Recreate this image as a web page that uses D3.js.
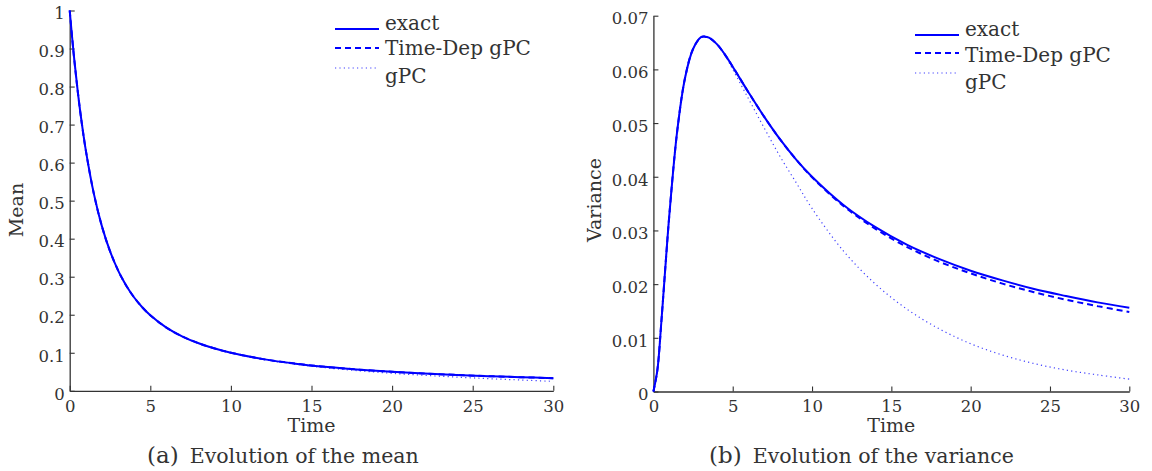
<!DOCTYPE html>
<html lang="en">
<head>
  <meta charset="UTF-8">
  <title>Evolution of mean and variance</title>
  <style>
    body { margin: 0; background: #fff; }
    svg text { font-family: 'DejaVu Serif', serif; fill: #333; }
  </style>
</head>
<body>
  <div id="chart"></div>

  <script src="https://d3js.org/d3.v7.min.js"></script>

  <script>
    // sample times
    const time = [0, 0.25, 0.5, 0.75, 1, 1.5, 2, 2.5, 3, 3.25, 3.5, 4, 4.5, 5, 6, 7, 8, 9, 10, 12, 14, 16, 18, 20, 22, 24, 26, 28, 30];

    // (a) mean
    const meanExact = [1, 0.8848, 0.7869, 0.7035, 0.6321, 0.5179, 0.4323, 0.3672, 0.3167, 0.2958, 0.2771, 0.2454, 0.2198, 0.1987, 0.1663, 0.1427, 0.1250, 0.1111, 0.1000, 0.0833, 0.0714, 0.0625, 0.0556, 0.0500, 0.0455, 0.0417, 0.0385, 0.0357, 0.0333];
    const meanTimeDep = [1, 0.8848, 0.7869, 0.7035, 0.6321, 0.5179, 0.4323, 0.3672, 0.3167, 0.2958, 0.2771, 0.2454, 0.2198, 0.1987, 0.1663, 0.1427, 0.1250, 0.1111, 0.1000, 0.0833, 0.0714, 0.0625, 0.0556, 0.0500, 0.0455, 0.0417, 0.0385, 0.0357, 0.0333];
    const meanGpc = [1, 0.8848, 0.7869, 0.7035, 0.6321, 0.5179, 0.4323, 0.3672, 0.3167, 0.2958, 0.2771, 0.2454, 0.2198, 0.1987, 0.1663, 0.1427, 0.1250, 0.1110, 0.0995, 0.0824, 0.0698, 0.0601, 0.0524, 0.0460, 0.0406, 0.0360, 0.0319, 0.0283, 0.0248];

    // (b) variance
    const varExact = [0, 0.0040, 0.0129, 0.0230, 0.0327, 0.0485, 0.0585, 0.0638, 0.0660, 0.0661, 0.0659, 0.0647, 0.0628, 0.0605, 0.0557, 0.0511, 0.0469, 0.0432, 0.0400, 0.0347, 0.0306, 0.0273, 0.0247, 0.0225, 0.0207, 0.0191, 0.0178, 0.0166, 0.0156];
    const varTimeDep = [0, 0.0040, 0.0129, 0.0230, 0.0327, 0.0485, 0.0585, 0.0638, 0.0660, 0.0661, 0.0659, 0.0647, 0.0628, 0.0605, 0.0557, 0.0511, 0.0469, 0.0432, 0.0399, 0.0345, 0.0303, 0.0269, 0.0242, 0.0220, 0.0201, 0.0185, 0.0171, 0.0159, 0.0148];
    const varGpc = [0, 0.0040, 0.0129, 0.0230, 0.0327, 0.0485, 0.0585, 0.0638, 0.0660, 0.0661, 0.0659, 0.0647, 0.0627, 0.0600, 0.0545, 0.0490, 0.0437, 0.0389, 0.0341, 0.0261, 0.0200, 0.0153, 0.0117, 0.0089, 0.0068, 0.0052, 0.0040, 0.0031, 0.0023];

    const xTicks = [0, 5, 10, 15, 20, 25, 30];
    const meanTicks = [0, 0.1, 0.2, 0.3, 0.4, 0.5, 0.6, 0.7, 0.8, 0.9, 1];
    const varTicks = [0, 0.01, 0.02, 0.03, 0.04, 0.05, 0.06, 0.07];
    const legendLabels = ["exact", "Time-Dep gPC", "gPC"];

    const width = 1152;
    const height = 471;

    const svg = d3.select("#chart")
      .append("svg")
      .attr("width", width)
      .attr("height", height);

    const styles = [
      { dash: null, width: 2, opacity: 1 },
      { dash: "6,4", width: 2, opacity: 1 },
      { dash: "1.2,3.2", width: 1.2, opacity: 0.75 }
    ];

    function drawPanel(p) {
      const x = d3.scaleLinear().domain([0, 30]).range([p.x0, p.x1]);
      const y = d3.scaleLinear().domain([0, p.ymax]).range([p.y0, p.y1]);
      const g = svg.append("g");

      const xAxis = g.append("g")
        .attr("transform", `translate(0,${p.y0})`)
        .call(d3.axisBottom(x).tickValues(xTicks).tickSize(-5).tickPadding(9).tickSizeOuter(0)
          .tickFormat(d3.format("d")));

      const yAxis = g.append("g")
        .attr("transform", `translate(${p.x0},0)`)
        .call(d3.axisLeft(y).tickValues(p.ticks).tickSize(-5).tickPadding(5).tickSizeOuter(0)
          .tickFormat(d => d === 0 ? "0" : String(+d.toFixed(2))));

      [xAxis, yAxis].forEach(a => {
        a.select(".domain").attr("stroke", "#333").attr("stroke-width", 1.3);
        a.selectAll(".tick line").attr("stroke", "#333").attr("stroke-width", 1.1);
        a.selectAll("text").attr("font-family", "DejaVu Serif").attr("font-size", 16.5).attr("fill", "#333");
      });
      yAxis.selectAll("text").attr("dy", "0.5em");

      const line = d3.line()
        .x((d, i) => x(time[i]))
        .y(d => y(d))
        .curve(d3.curveCatmullRom.alpha(0.5));

      p.series.forEach((s, i) => {
        const st = styles[i];
        g.append("path")
          .datum(s)
          .attr("d", line)
          .attr("fill", "none")
          .attr("stroke", "#0000ff")
          .attr("stroke-width", st.width)
          .attr("stroke-opacity", st.opacity)
          .attr("stroke-dasharray", st.dash);
      });

      // legend
      legendLabels.forEach((lab, i) => {
        g.append("line")
          .attr("x1", p.lx).attr("x2", p.lx + 44)
          .attr("y1", p.lineY[i]).attr("y2", p.lineY[i])
          .attr("stroke", "#0000ff")
          .attr("stroke-width", styles[i].width)
          .attr("stroke-opacity", styles[i].opacity)
          .attr("stroke-dasharray", styles[i].dash);
        g.append("text")
          .attr("x", p.lx + 50)
          .attr("y", p.textY[i])
          .attr("font-size", 20)
          .text(lab);
      });

      // axis titles
      const cx = (p.x0 + p.x1) / 2;
      g.append("text")
        .attr("x", cx).attr("y", 432)
        .attr("text-anchor", "middle")
        .attr("font-size", 19)
        .text("Time");

      g.append("text")
        .attr("transform", `translate(${p.ylabX},${p.ylabY}) rotate(-90)`)
        .attr("text-anchor", "middle")
        .attr("font-size", 19)
        .text(p.ylabel);

      // caption
      const cap = g.append("text")
        .attr("x", p.capX).attr("y", 463)
        .attr("font-size", 20.5);
      cap.append("tspan").attr("font-size", 23).text(p.capTag);
      cap.append("tspan").attr("dx", 11).text(p.caption);
    }

    drawPanel({
      x0: 69.7, x1: 553.3, y0: 390.8, y1: 10.5, ymax: 1,
      ticks: meanTicks,
      series: [meanExact, meanTimeDep, meanGpc],
      lx: 335, lineY: [29, 48, 68], textY: [30, 55, 83],
      ylabel: "Mean", ylabX: 23, ylabY: 210,
      capX: 147, capTag: "(a)", caption: "Evolution of the mean"
    });

    drawPanel({
      x0: 653.4, x1: 1129.3, y0: 391.5, y1: 15.7, ymax: 0.07,
      ticks: varTicks,
      series: [varExact, varTimeDep, varGpc],
      lx: 915, lineY: [35, 53, 73], textY: [36, 62, 89],
      ylabel: "Variance", ylabX: 601, ylabY: 200,
      capX: 709, capTag: "(b)", caption: "Evolution of the variance"
    });
  </script>
</body>
</html>
